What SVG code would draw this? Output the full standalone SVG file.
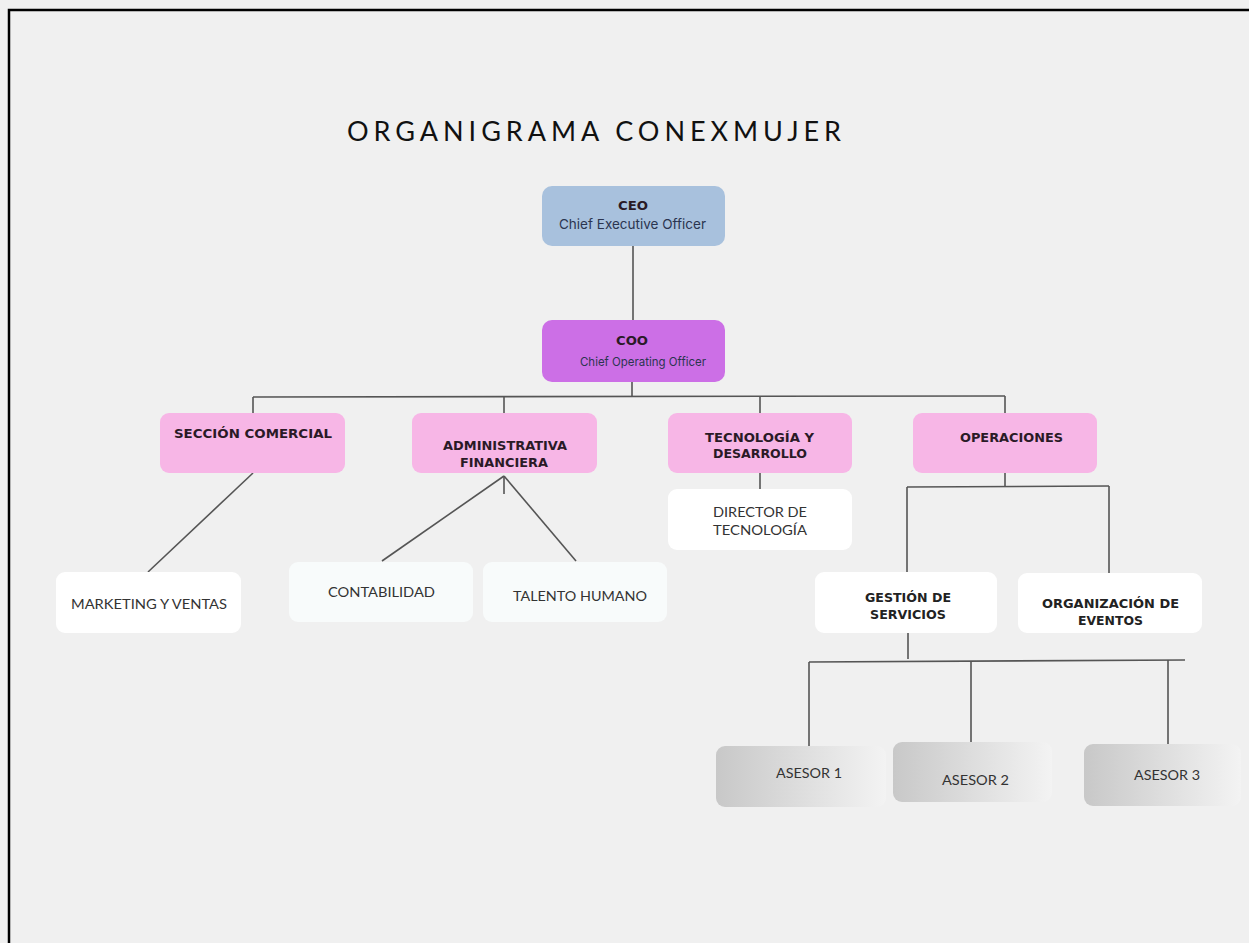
<svg xmlns="http://www.w3.org/2000/svg" width="1249" height="943" viewBox="0 0 1249 943">
  <defs>
    <linearGradient id="gradAsesor" x1="0" y1="0" x2="1" y2="0">
      <stop offset="0" stop-color="#c8c8c8"/>
      <stop offset="1" stop-color="#f3f3f3"/>
    </linearGradient>
    <style>
      .title { font-family: "Lato", "Liberation Sans", sans-serif; font-size: 27px; fill: #111; }
      .head { font-family: "DejaVu Sans", "Liberation Sans", sans-serif; font-weight: bold; font-size: 12.5px; fill: #2a1a26; }
      .sub { font-family: "Inter", "Liberation Sans", sans-serif; fill: #2b3550; }
      .plain { font-family: "Lato", "Liberation Sans", sans-serif; font-size: 13.5px; fill: #333; }
      .lbl { font-family: "DejaVu Sans", "Liberation Sans", sans-serif; font-weight: bold; font-size: 12.5px; fill: #222; }
      .link { stroke: #555; stroke-width: 1.6; fill: none; }
      .pink { fill: #f7b6e6; }
      .white { fill: #ffffff; }
      .pale { fill: #f8fbfb; }
      .asesor { fill: url(#gradAsesor); }
    </style>
  </defs>

  <!-- page background and frame -->
  <rect x="0" y="0" width="1249" height="943" fill="#f0f0f0"/>
  <path d="M9,950 V10 H1260" stroke="#000" stroke-width="2.5" fill="none"/>

  <text class="title" x="347" y="141" textLength="494" lengthAdjust="spacing">ORGANIGRAMA CONEXMUJER</text>

  <!-- connectors -->
  <g id="connectors">
    <line class="link" x1="633" y1="245" x2="633" y2="320"/>
    <line class="link" x1="632" y1="381" x2="632" y2="397"/>
    <line class="link" x1="253" y1="397" x2="1005" y2="396"/>
    <line class="link" x1="253" y1="397" x2="253" y2="413"/>
    <line class="link" x1="504" y1="397" x2="504" y2="413"/>
    <line class="link" x1="760" y1="397" x2="760" y2="413"/>
    <line class="link" x1="1005" y1="396" x2="1005" y2="413"/>

    <line class="link" x1="253" y1="473" x2="148" y2="572"/>

    <line class="link" x1="504" y1="476" x2="382" y2="561"/>
    <line class="link" x1="504" y1="476" x2="576" y2="561"/>
    <line class="link" x1="504" y1="476" x2="504" y2="494"/>

    <line class="link" x1="760" y1="473" x2="760" y2="489"/>

    <line class="link" x1="1005" y1="473" x2="1005" y2="486"/>
    <line class="link" x1="907" y1="487" x2="1109" y2="486"/>
    <line class="link" x1="907" y1="487" x2="907" y2="572"/>
    <line class="link" x1="1109" y1="486" x2="1109" y2="573"/>

    <line class="link" x1="908" y1="632" x2="908" y2="659"/>
    <line class="link" x1="809" y1="662" x2="1185" y2="660"/>
    <line class="link" x1="809" y1="662" x2="809" y2="746"/>
    <line class="link" x1="971" y1="661" x2="971" y2="747"/>
    <line class="link" x1="1168" y1="660" x2="1168" y2="744"/>
  </g>

  <g id="ceo">
    <rect x="542" y="186" width="183" height="60" rx="10" fill="#a8c1dd"/>
    <text class="head" x="618" y="210" textLength="30" lengthAdjust="spacingAndGlyphs">CEO</text>
    <text class="sub" x="559" y="229" font-size="13.5" textLength="147" lengthAdjust="spacingAndGlyphs">Chief Executive Officer</text>
  </g>

  <g id="coo">
    <rect x="542" y="320" width="183" height="62" rx="10" fill="#cc6fe6"/>
    <text class="head" x="616" y="345" textLength="32" lengthAdjust="spacingAndGlyphs">COO</text>
    <text class="sub" x="580" y="366" font-size="12" textLength="126" lengthAdjust="spacingAndGlyphs">Chief Operating Officer</text>
  </g>

  <g id="seccion-comercial">
    <rect class="pink" x="160" y="413" width="185" height="60" rx="9"/>
    <text class="head" x="174" y="438" textLength="158" lengthAdjust="spacingAndGlyphs">SECCIÓN COMERCIAL</text>
  </g>

  <g id="administrativa-financiera">
    <rect class="pink" x="412" y="413" width="185" height="60" rx="9"/>
    <text class="head" x="443" y="450" textLength="124" lengthAdjust="spacingAndGlyphs">ADMINISTRATIVA</text>
    <text class="head" x="460" y="467" textLength="88" lengthAdjust="spacingAndGlyphs">FINANCIERA</text>
  </g>

  <g id="tecnologia-desarrollo">
    <rect class="pink" x="668" y="413" width="184" height="60" rx="9"/>
    <text class="head" x="705" y="442" textLength="109" lengthAdjust="spacingAndGlyphs">TECNOLOGÍA Y</text>
    <text class="head" x="713" y="458" textLength="94" lengthAdjust="spacingAndGlyphs">DESARROLLO</text>
  </g>

  <g id="operaciones">
    <rect class="pink" x="913" y="413" width="184" height="60" rx="9"/>
    <text class="head" x="960" y="442" textLength="103" lengthAdjust="spacingAndGlyphs">OPERACIONES</text>
  </g>

  <g id="director-tecnologia">
    <rect class="white" x="668" y="489" width="184" height="61" rx="9"/>
    <text class="plain" x="713" y="517" textLength="94" lengthAdjust="spacingAndGlyphs">DIRECTOR DE</text>
    <text class="plain" x="713" y="535" textLength="94" lengthAdjust="spacingAndGlyphs">TECNOLOGÍA</text>
  </g>

  <g id="marketing-ventas">
    <rect class="white" x="56" y="572" width="185" height="61" rx="9"/>
    <text class="plain" x="71" y="609" textLength="156" lengthAdjust="spacingAndGlyphs">MARKETING Y VENTAS</text>
  </g>

  <g id="contabilidad">
    <rect class="pale" x="289" y="562" width="184" height="60" rx="9"/>
    <text class="plain" x="328" y="597" textLength="107" lengthAdjust="spacingAndGlyphs">CONTABILIDAD</text>
  </g>

  <g id="talento-humano">
    <rect class="pale" x="483" y="562" width="184" height="60" rx="9"/>
    <text class="plain" x="513" y="601" textLength="134" lengthAdjust="spacingAndGlyphs">TALENTO HUMANO</text>
  </g>

  <g id="gestion-servicios">
    <rect class="white" x="815" y="572" width="182" height="61" rx="9"/>
    <text class="lbl" x="865" y="602" textLength="86" lengthAdjust="spacingAndGlyphs">GESTIÓN DE</text>
    <text class="lbl" x="870" y="619" textLength="76" lengthAdjust="spacingAndGlyphs">SERVICIOS</text>
  </g>

  <g id="organizacion-eventos">
    <rect class="white" x="1018" y="573" width="184" height="60" rx="9"/>
    <text class="lbl" x="1042" y="608" textLength="137" lengthAdjust="spacingAndGlyphs">ORGANIZACIÓN DE</text>
    <text class="lbl" x="1078" y="625" textLength="65" lengthAdjust="spacingAndGlyphs">EVENTOS</text>
  </g>

  <g id="asesor-1">
    <rect class="asesor" x="716" y="746" width="170" height="61" rx="9"/>
    <text class="plain" x="776" y="778" textLength="66" lengthAdjust="spacingAndGlyphs">ASESOR 1</text>
  </g>

  <g id="asesor-2">
    <rect class="asesor" x="893" y="742" width="159" height="60" rx="9"/>
    <text class="plain" x="942" y="785" textLength="67" lengthAdjust="spacingAndGlyphs">ASESOR 2</text>
  </g>

  <g id="asesor-3">
    <rect class="asesor" x="1084" y="744" width="157" height="62" rx="9"/>
    <text class="plain" x="1134" y="780" textLength="66" lengthAdjust="spacingAndGlyphs">ASESOR 3</text>
  </g>
</svg>
